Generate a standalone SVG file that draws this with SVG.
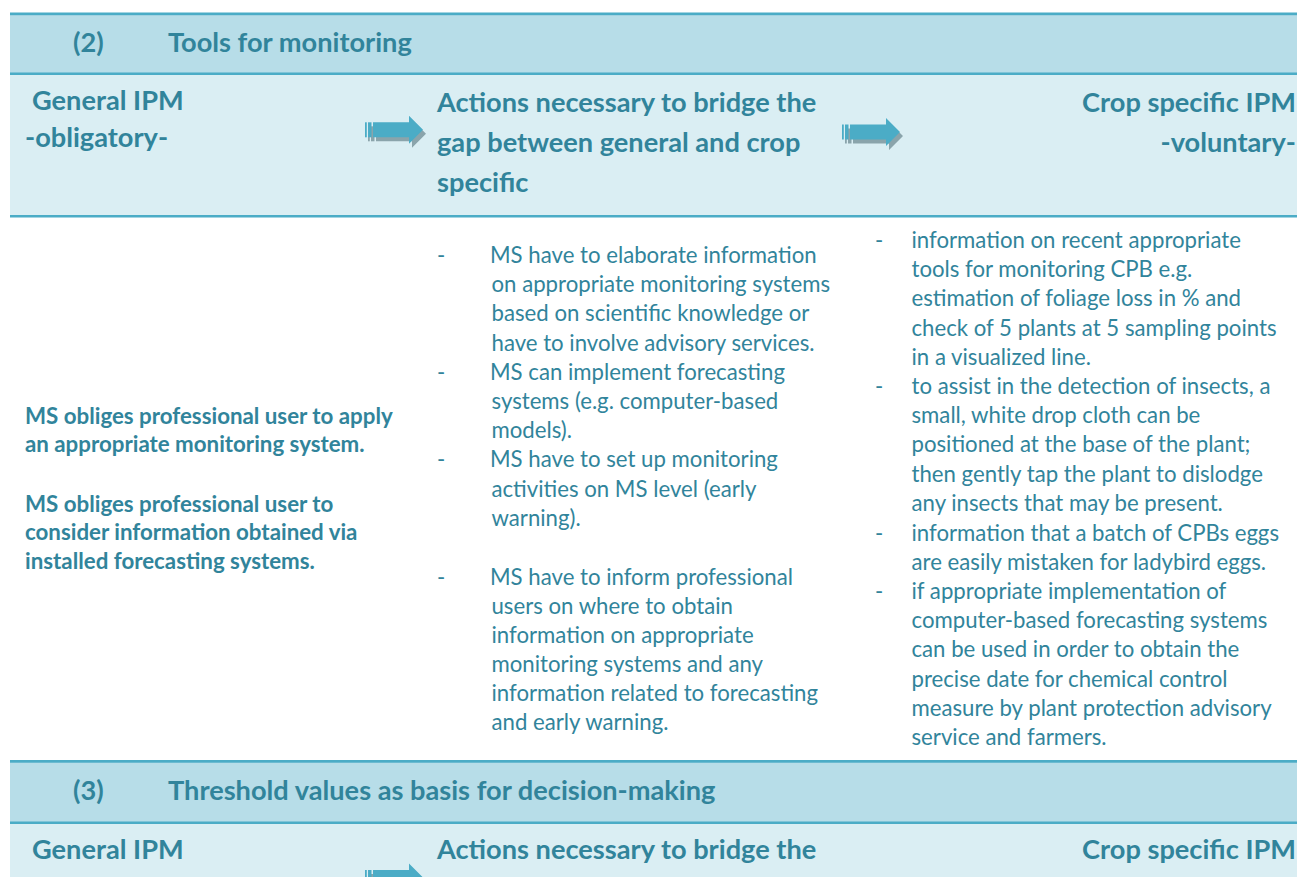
<svg xmlns="http://www.w3.org/2000/svg" width="1297" height="877" viewBox="0 0 1297 877">
<style>
.hb{fill:#b7dde8}
.lb{fill:#daeef3}
.ln{fill:#4bacc6}
text{font-family:Lato,"Open Sans","Liberation Sans",sans-serif;fill:#31849b}
.h{font-size:27.2px;font-weight:bold}
.b{font-size:22.2px}
.lbd{font-size:22.3px;font-weight:bold}
</style>
<defs>
<g id="arw">
<g transform="translate(3,4)" fill="#8aa4ab">
<rect x="0" y="0" width="1.8" height="15"/>
<rect x="3" y="0" width="3.5" height="15"/>
<path d="M8,0 H44 V-6.5 L58,7.5 L44,21.5 V15 H8 Z"/>
</g>
<g fill="#4bacc6">
<rect x="0" y="0" width="1.8" height="15"/>
<rect x="3" y="0" width="3.5" height="15"/>
<path d="M8,0 H44 V-6.5 L58,7.5 L44,21.5 V15 H8 Z"/>
</g>
</g>
</defs>
<rect width="1297" height="877" fill="#ffffff"/>
<g id="bands">
<rect class="hb" x="10" y="13" width="1287" height="60"/>
<rect class="lb" x="10" y="74" width="1287" height="142"/>
<rect class="ln" x="10" y="12.5" width="1287" height="2.7"/>
<rect class="ln" x="10" y="72.5" width="1287" height="2.5"/>
<rect class="ln" x="10" y="215" width="1287" height="2.5"/>
<rect class="hb" x="10" y="761" width="1287" height="62"/>
<rect class="lb" x="10" y="823" width="1287" height="54"/>
<rect class="ln" x="10" y="760" width="1287" height="2.7"/>
<rect class="ln" x="10" y="821.5" width="1287" height="2.5"/>
</g>
<g id="section2-title">
<text class="h" x="73" y="52">(2)</text>
<text class="h" x="168" y="52">Tools for monitoring</text>
</g>
<g id="general-ipm-2">
<text class="h" x="32" y="110">General IPM</text>
<text class="h" x="25" y="147">-obligatory-</text>
</g>
<g id="actions-2">
<text class="h" x="437" y="111.5">Actions necessary to bridge the</text>
<text class="h" x="437" y="151.5">gap between general and crop</text>
<text class="h" x="437" y="191.5">specific</text>
</g>
<g id="crop-ipm-2">
<text class="h" x="1296" y="111.5" text-anchor="end">Crop specific IPM</text>
<text class="h" x="1296" y="151.5" text-anchor="end">-voluntary-</text>
</g>
<g id="general-body">
<text class="lbd" x="25" y="423.5">MS obliges professional user to apply</text>
<text class="lbd" x="25" y="452">an appropriate monitoring system.</text>
<text class="lbd" x="25" y="511.5">MS obliges professional user to</text>
<text class="lbd" x="25" y="540">consider information obtained via</text>
<text class="lbd" x="25" y="568.5">installed forecasting systems.</text>
</g>
<g id="actions-body">
<text class="b" x="437" y="263">-</text>
<text class="b" x="490" y="263">MS have to elaborate information</text>
<text class="b" x="491.5" y="292.2">on appropriate monitoring systems</text>
<text class="b" x="491.5" y="321.4">based on scientific knowledge or</text>
<text class="b" x="491.5" y="350.6">have to involve advisory services.</text>
<text class="b" x="437" y="379.8">-</text>
<text class="b" x="490" y="379.8">MS can implement forecasting</text>
<text class="b" x="491.5" y="409">systems (e.g. computer-based</text>
<text class="b" x="491.5" y="438.2">models).</text>
<text class="b" x="437" y="467.4">-</text>
<text class="b" x="490" y="467.4">MS have to set up monitoring</text>
<text class="b" x="491.5" y="496.6">activities on MS level (early</text>
<text class="b" x="491.5" y="525.8">warning).</text>
<text class="b" x="437" y="584.5">-</text>
<text class="b" x="490" y="584.5">MS have to inform professional</text>
<text class="b" x="491.5" y="613.5">users on where to obtain</text>
<text class="b" x="491.5" y="642.7">information on appropriate</text>
<text class="b" x="491.5" y="671.9">monitoring systems and any</text>
<text class="b" x="491.5" y="701">information related to forecasting</text>
<text class="b" x="491.5" y="730">and early warning.</text>
</g>
<g id="crop-body">
<text class="b" x="875" y="248">-</text>
<text class="b" x="911.5" y="248">information on recent appropriate</text>
<text class="b" x="911.5" y="277.2">tools for monitoring CPB e.g.</text>
<text class="b" x="911.5" y="306.4">estimation of foliage loss in % and</text>
<text class="b" x="911.5" y="335.6">check of 5 plants at 5 sampling points</text>
<text class="b" x="911.5" y="364.8">in a visualized line.</text>
<text class="b" x="875" y="394">-</text>
<text class="b" x="911.5" y="394">to assist in the detection of insects, a</text>
<text class="b" x="911.5" y="423.2">small, white drop cloth can be</text>
<text class="b" x="911.5" y="452.4">positioned at the base of the plant;</text>
<text class="b" x="911.5" y="481.6">then gently tap the plant to dislodge</text>
<text class="b" x="911.5" y="510.8">any insects that may be present.</text>
<text class="b" x="875" y="540.5">-</text>
<text class="b" x="911.5" y="540.5">information that a batch of CPBs eggs</text>
<text class="b" x="911.5" y="569.7">are easily mistaken for ladybird eggs.</text>
<text class="b" x="875" y="599">-</text>
<text class="b" x="911.5" y="599">if appropriate implementation of</text>
<text class="b" x="911.5" y="628.2">computer-based forecasting systems</text>
<text class="b" x="911.5" y="657.4">can be used in order to obtain the</text>
<text class="b" x="911.5" y="686.6">precise date for chemical control</text>
<text class="b" x="911.5" y="715.8">measure by plant protection advisory</text>
<text class="b" x="911.5" y="745">service and farmers.</text>
</g>
<g id="section3-title">
<text class="h" x="73" y="799.5">(3)</text>
<text class="h" x="168" y="799.5">Threshold values as basis for decision-making</text>
</g>
<g id="general-ipm-3">
<text class="h" x="32" y="858.5">General IPM</text>
</g>
<g id="actions-3">
<text class="h" x="437" y="858.5">Actions necessary to bridge the</text>
</g>
<g id="crop-ipm-3">
<text class="h" x="1296" y="858.5" text-anchor="end">Crop specific IPM</text>
</g>
<g id="connectors">
<use href="#arw" transform="translate(365,122.3)"/>
<use href="#arw" transform="translate(842,124.5)"/>
<use href="#arw" transform="translate(365,870)"/>
</g>
</svg>
